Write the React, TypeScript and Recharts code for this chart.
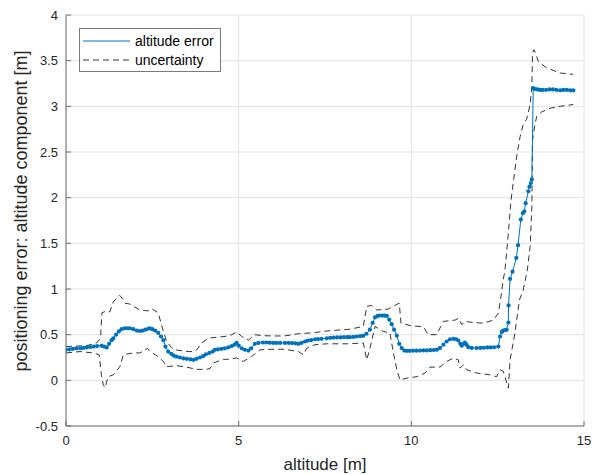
import { CartesianGrid, Legend, Line, LineChart, XAxis, YAxis } from "recharts";

// altitude error (blue, with markers)
const errX = [
  0, 0.1, 0.2, 0.3, 0.41, 0.5, 0.6, 0.7, 0.8, 0.9, 1.03, 1.1, 1.18, 1.25, 1.32,
  1.37, 1.45, 1.53, 1.61, 1.7, 1.78, 1.85, 1.95, 2.05, 2.14, 2.22, 2.3, 2.38,
  2.43, 2.5, 2.58, 2.67, 2.75, 2.82, 2.88, 2.96, 3.05, 3.12, 3.2, 3.3, 3.4, 3.5,
  3.6, 3.69, 3.78, 3.88, 3.97, 4.05, 4.15, 4.25, 4.31, 4.4, 4.5, 4.6, 4.7, 4.8,
  4.88, 4.94, 5.0, 5.09, 5.18, 5.28, 5.36, 5.47, 5.57, 5.7, 5.8, 5.9, 6.0, 6.1,
  6.2, 6.34, 6.45, 6.55, 6.65, 6.73, 6.82, 6.92, 7.0, 7.1, 7.21, 7.3, 7.4, 7.55,
  7.65, 7.75, 7.85, 7.95, 8.05, 8.15, 8.22, 8.32, 8.42, 8.52, 8.61, 8.7, 8.8,
  8.88, 8.95, 9.02, 9.09, 9.17, 9.23, 9.29, 9.36, 9.43, 9.5, 9.58, 9.65, 9.72,
  9.8, 9.87, 9.95, 10.05, 10.15, 10.25, 10.35, 10.45, 10.55, 10.65, 10.74,
  10.83, 10.93, 11.02, 11.12, 11.22, 11.3, 11.36, 11.42, 11.46, 11.5, 11.55,
  11.6, 11.65, 11.75, 11.89, 12.0, 12.1, 12.2, 12.3, 12.4, 12.52, 12.57, 12.62,
  12.66, 12.72, 12.76, 12.81, 12.815, 12.86, 12.93, 13.04, 13.09, 13.17, 13.23,
  13.27, 13.31, 13.39, 13.42, 13.46, 13.49, 13.53, 13.58, 13.65, 13.72, 13.8,
  13.9, 14.0, 14.1, 14.2, 14.31, 14.4, 14.5, 14.6, 14.69,
];
const errY = [
  0.335, 0.34, 0.345, 0.35, 0.35, 0.355, 0.36, 0.365, 0.37, 0.375, 0.378, 0.37,
  0.36, 0.4, 0.44, 0.46, 0.5, 0.535, 0.56, 0.57, 0.57, 0.57, 0.56, 0.545, 0.54,
  0.545, 0.555, 0.565, 0.57, 0.56, 0.545, 0.52, 0.48, 0.44, 0.37, 0.315, 0.29,
  0.27, 0.26, 0.25, 0.24, 0.235, 0.23, 0.225, 0.235, 0.25, 0.265, 0.285, 0.3,
  0.315, 0.334, 0.34, 0.345, 0.35, 0.36, 0.375, 0.39, 0.41, 0.38, 0.35, 0.335,
  0.326, 0.35, 0.4, 0.41, 0.414, 0.414, 0.412, 0.41, 0.41, 0.41, 0.41, 0.41,
  0.408, 0.405, 0.4, 0.41, 0.425, 0.435, 0.44, 0.45, 0.452, 0.455, 0.46, 0.465,
  0.468, 0.47, 0.47, 0.472, 0.473, 0.473, 0.475, 0.48, 0.485, 0.487, 0.51,
  0.555, 0.63, 0.69, 0.705, 0.71, 0.71, 0.708, 0.706, 0.665, 0.615, 0.555,
  0.49, 0.4, 0.353, 0.326, 0.323, 0.323, 0.325, 0.325, 0.326, 0.327, 0.328,
  0.33, 0.332, 0.336, 0.353, 0.39, 0.425, 0.45, 0.455, 0.45, 0.436, 0.4, 0.38,
  0.395, 0.414, 0.39, 0.363, 0.355, 0.353, 0.355, 0.357, 0.36, 0.36, 0.362,
  0.37, 0.48, 0.53, 0.545, 0.55, 0.553, 0.633, 0.82, 1.11, 1.19, 1.34, 1.48,
  1.76, 1.83, 1.85, 1.94, 2.07, 2.12, 2.16, 2.2, 3.2, 3.19, 3.185, 3.18, 3.18,
  3.18, 3.185, 3.185, 3.18, 3.175, 3.18, 3.18, 3.175, 3.175,
];

// upper uncertainty bound
const upX = [
  0, 0.3, 0.6, 0.89, 1.0, 1.04, 1.18, 1.27, 1.37, 1.47, 1.56, 1.66, 1.71, 1.85,
  2.0, 2.14, 2.38, 2.48, 2.67, 2.77, 2.91, 3.05, 3.16, 3.54, 3.7, 3.78, 3.93,
  4.12, 4.31, 4.6, 4.8, 4.94, 5.09, 5.28, 5.47, 5.67, 6.0, 6.34, 6.73, 7.12,
  7.55, 8.22, 8.61, 8.71, 8.85, 9.0, 9.33, 9.65, 9.7, 9.96, 10.35, 10.49, 10.74,
  10.85, 10.93, 11.27, 11.36, 11.46, 11.55, 11.8, 12.09, 12.38, 12.52, 12.59,
  12.66, 12.71, 12.81, 12.88, 12.95, 13.05, 13.15, 13.24, 13.34, 13.44, 13.49,
  13.51, 13.55, 13.6, 13.68, 13.92, 14.31, 14.69,
];
const upY = [
  0.37, 0.375, 0.38, 0.41, 0.46, 0.74, 0.76, 0.75, 0.86, 0.9, 0.93, 0.88, 0.845,
  0.835, 0.8, 0.77, 0.76, 0.785, 0.74, 0.6, 0.43, 0.36, 0.334, 0.315, 0.315,
  0.33, 0.41, 0.46, 0.47, 0.48, 0.5, 0.53, 0.48, 0.44, 0.5, 0.49, 0.485, 0.487,
  0.51, 0.52, 0.54, 0.56, 0.59, 0.81, 0.82, 0.77, 0.78, 0.845, 0.626, 0.6,
  0.585, 0.5, 0.5, 0.59, 0.645, 0.66, 0.68, 0.61, 0.645, 0.633, 0.626, 0.66,
  0.736, 0.9, 1.1, 1.2, 1.61, 1.95, 2.16, 2.45, 2.67, 2.8, 2.86, 3.02, 3.22,
  3.58, 3.62, 3.58, 3.49, 3.42, 3.365, 3.35,
];

// lower uncertainty bound
const loX = [
  0, 0.41, 0.79, 0.96, 1.03, 1.08, 1.13, 1.22, 1.37, 1.56, 1.66, 1.8, 1.95,
  2.14, 2.36, 2.43, 2.63, 2.77, 2.82, 2.91, 3.2, 3.49, 3.78, 4.07, 4.17, 4.27,
  4.41, 4.56, 4.7, 4.94, 5.13, 5.37, 5.62, 5.96, 6.34, 6.73, 6.87, 6.97, 7.07,
  7.21, 7.55, 8.22, 8.61, 8.71, 8.8, 8.95, 9.19, 9.38, 9.48, 9.58, 9.67, 9.87,
  10.16, 10.4, 10.54, 10.83, 11.02, 11.22, 11.36, 11.41, 11.51, 11.61, 11.89,
  12.28, 12.47, 12.57, 12.66, 12.71, 12.81, 12.86, 13.0, 13.13, 13.24, 13.36,
  13.44, 13.49, 13.51, 13.58, 13.63, 13.78, 14.02, 14.31, 14.69,
];
const loY = [
  0.3, 0.315, 0.3, 0.28, 0.05, -0.05, -0.08, 0.04, 0.06, 0.15, 0.28, 0.29, 0.3,
  0.3, 0.35, 0.315, 0.27, 0.225, 0.206, 0.15, 0.16, 0.145, 0.12, 0.12, 0.13,
  0.19, 0.21, 0.23, 0.23, 0.245, 0.206, 0.26, 0.334, 0.34, 0.34, 0.315, 0.28,
  0.35, 0.37, 0.39, 0.4, 0.4, 0.41, 0.225, 0.35, 0.59, 0.535, 0.52, 0.3, 0.115,
  0.005, 0.024, 0.04, 0.08, 0.145, 0.145, 0.206, 0.243, 0.225, 0.134, 0.17,
  0.115, 0.08, 0.06, 0.04, 0.115, 0.1, 0.04, -0.085, 0.225, 0.52, 0.88, 0.99,
  1.21, 1.465, 1.9, 2.63, 2.8, 2.89, 2.94, 2.98, 3.0, 3.02,
];

const xTicks = [0, 5, 10, 15];
const yTicks = [-0.5, 0, 0.5, 1, 1.5, 2, 2.5, 3, 3.5, 4];

const BLUE = "#0072BD";
const FONT = "'Liberation Sans', Arial, sans-serif";

const toPoints = (xs: number[], ys: number[]) =>
  xs.map((x, i) => ({ x, y: ys[i] }));

function LegendBox() {
  return (
    <svg width={142} height={44} style={{ display: "block" }}>
      <rect x={0.5} y={0.5} width={141} height={43} fill="#fff" stroke="#7a7a7a" />
      <line x1={4} x2={51} y1={13} y2={13} stroke={BLUE} strokeWidth={1} />
      <line x1={4} x2={51} y1={32} y2={32} stroke="#000" strokeWidth={0.8} strokeDasharray="6 4" />
      <text x={56} y={17.5} fontSize={14} fontFamily={FONT} fill="#000">
        altitude error
      </text>
      <text x={56} y={36.5} fontSize={14} fontFamily={FONT} fill="#000">
        uncertainty
      </text>
    </svg>
  );
}

export default function App() {
  const tickStyle = { fill: "#262626", fontSize: 13, fontFamily: FONT };
  return (
    <div style={{ position: "absolute", left: 0, top: 0, background: "#fff" }}>
      <LineChart
        width={595}
        height={474}
        margin={{ top: 15, right: 11, bottom: 0, left: 0 }}
      >
        <CartesianGrid stroke="#e3e3e3" />
        <XAxis
          type="number"
          dataKey="x"
          domain={[0, 15]}
          ticks={xTicks}
          allowDataOverflow
          height={48}
          tick={tickStyle}
          tickSize={-5}
          tickMargin={15}
          stroke="#6e6e6e"
          label={{
            content: () => (
              <text x={325} y={470} textAnchor="middle" fontSize={17} fontFamily={FONT} fill="#262626">
                altitude [m]
              </text>
            ),
          }}
        />
        <YAxis
          type="number"
          dataKey="y"
          domain={[-0.5, 4]}
          ticks={yTicks}
          allowDataOverflow
          width={66}
          tick={tickStyle}
          tickSize={-5}
          tickMargin={13}
          stroke="#6e6e6e"
          label={{
            content: () => (
              <text
                x={21}
                y={211}
                transform="rotate(-90 21 211)"
                textAnchor="middle"
                dominantBaseline="central"
                fontSize={18}
                fontFamily={FONT}
                fill="#262626"
              >
                positioning error: altitude component [m]
              </text>
            ),
          }}
        />
        <Legend
          layout="horizontal"
          verticalAlign="middle"
          align="center"
          wrapperStyle={{ left: 79, top: 28, width: "auto", height: "auto" }}
          content={() => <LegendBox />}
        />
        <Line
          data={toPoints(upX, upY)}
          dataKey="y"
          type="linear"
          stroke="#000"
          strokeWidth={0.8}
          strokeDasharray="6 4"
          dot={false}
          activeDot={false}
          isAnimationActive={false}
        />
        <Line
          data={toPoints(loX, loY)}
          dataKey="y"
          type="linear"
          stroke="#000"
          strokeWidth={0.8}
          strokeDasharray="6 4"
          dot={false}
          activeDot={false}
          isAnimationActive={false}
        />
        <Line
          data={toPoints(errX, errY)}
          dataKey="y"
          type="linear"
          stroke={BLUE}
          strokeWidth={1}
          dot={{ r: 2.1, fill: BLUE, stroke: BLUE, strokeWidth: 0 }}
          activeDot={false}
          isAnimationActive={false}
        />
      </LineChart>
    </div>
  );
}
